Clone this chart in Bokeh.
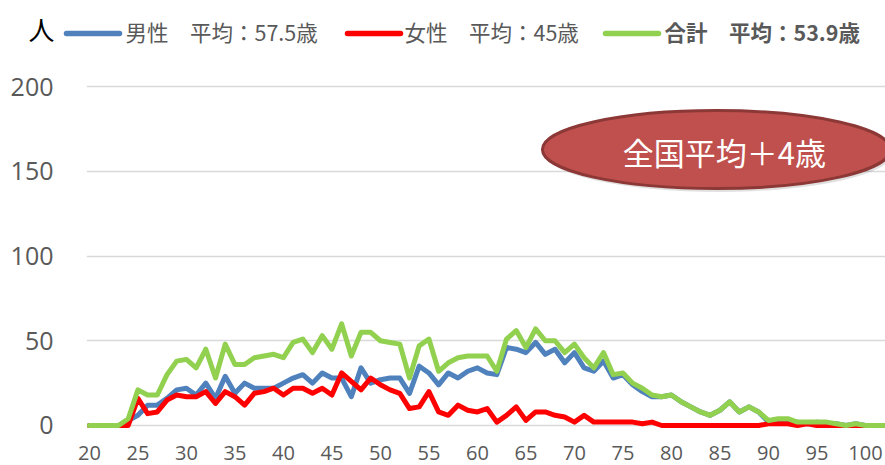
from bokeh.plotting import figure
from bokeh.layouts import column
from bokeh.models import Range1d, FixedTicker
from bokeh.core.properties import value
from bokeh.embed import file_html
from bokeh.resources import INLINE

# ---------------- data ----------------
ages = list(range(20, 103))
male = [0, 0, 0, 0, 3, 6, 12, 12, 16, 21,
        22, 18, 25, 16, 29, 19, 25, 22, 22, 22,
        25, 28, 30, 25, 31, 28, 28, 17, 34, 25,
        27, 28, 28, 19, 35, 31, 24, 31, 28, 32,
        34, 31, 30, 46, 45, 43, 49, 42, 45, 37,
        43, 34, 32, 38, 28, 30, 24, 20, 17, 17,
        18, 14, 11, 8, 6, 9, 14, 8, 11, 8,
        2, 3, 3, 2, 1, 2, 1, 1, 0, 1,
        0, 0, 0]
female = [0, 0, 0, 0, 0, 16, 7, 8, 15, 18,
          17, 17, 20, 13, 20, 17, 12, 19, 20, 22,
          18, 22, 22, 19, 22, 18, 31, 26, 21, 28,
          24, 21, 19, 10, 11, 20, 8, 6, 12, 9,
          8, 10, 2, 6, 11, 3, 8, 8, 6, 5,
          2, 6, 2, 2, 2, 2, 2, 1, 2, 0,
          0, 0, 0, 0, 0, 0, 0, 0, 0, 0,
          1, 1, 1, 0, 1, 0, 0, 0, 0, 0,
          0, 0, 0]
total = [0, 0, 0, 0, 4, 21, 18, 18, 30, 38,
         39, 34, 45, 28, 48, 36, 36, 40, 41, 42,
         40, 49, 51, 43, 53, 45, 60, 41, 55, 55,
         50, 49, 48, 28, 47, 51, 32, 37, 40, 41,
         41, 41, 32, 51, 56, 46, 57, 50, 50, 43,
         48, 40, 34, 43, 30, 31, 25, 22, 18, 17,
         18, 14, 11, 8, 6, 9, 14, 8, 11, 8,
         3, 4, 4, 2, 2, 2, 2, 1, 0, 1,
         0, 0, 0]
x_ticks = list(range(20, 101, 5))
y_ticks = [0, 50, 100, 150, 200]
series_labels = ["男性　平均：57.5歳", "女性　平均：45歳", "合計　平均：53.9歳"]
unit_label = "人"
note_text = "全国平均＋4歳"

# ---------------- styles ----------------
BLUE = "#4F81BD"
RED = "#FF0000"
GREEN = "#92D050"
GRAY = "#595959"
CJK = "Noto Sans CJK JP"
NUM = "Open Sans"
W = 885
TOP_H = 60
MAIN_H = 405

# ---------------- header strip (unit + legend) ----------------
top = figure(width=W, height=TOP_H, output_backend="svg", toolbar_location=None,
             x_range=Range1d(0, W), y_range=Range1d(TOP_H, 0),
             x_axis_location=None, y_axis_location=None,
             min_border=0, min_border_left=0, min_border_right=0,
             min_border_top=0, min_border_bottom=0)
top.frame_align = False
top.grid.visible = False
top.outline_line_color = None
top.background_fill_color = "white"
top.border_fill_color = "white"

top.text(x=[41], y=[28], text=[unit_label], text_font=value(CJK), text_font_size="26px",
         text_color="black", text_align="center", text_baseline="middle")

leg = [
    (BLUE, 66, 119, 125, series_labels[0], "normal"),
    (RED, 347, 400, 404, series_labels[1], "normal"),
    (GREEN, 605, 658, 664, series_labels[2], "bold"),
]
for col, x0, x1, tx, lab, style in leg:
    top.line([x0, x1], [33, 33], line_color=col, line_width=5.5, line_cap="round")
    top.text(x=[tx], y=[31], text=[lab], text_font=value(CJK), text_font_size="21.5px",
             text_color=GRAY, text_align="left", text_baseline="middle",
             text_font_style=style)

# ---------------- main chart ----------------
p = figure(width=W, height=MAIN_H, output_backend="svg", toolbar_location=None,
           x_range=Range1d(19.7, 102.07), y_range=Range1d(-2.95, 203.54),
           min_border_left=86, min_border_right=0, min_border_top=20, min_border_bottom=35)
p.frame_align = False
p.outline_line_color = None
p.background_fill_color = "white"
p.border_fill_color = "white"

p.xgrid.grid_line_color = None
p.ygrid.grid_line_color = "#D9D9D9"
p.ygrid.grid_line_width = 1.3

p.xaxis.ticker = FixedTicker(ticks=x_ticks)
p.yaxis.ticker = FixedTicker(ticks=y_ticks)
for ax in (p.xaxis, p.yaxis):
    ax.axis_line_color = None
    ax.major_tick_line_color = None
    ax.minor_tick_line_color = None
    ax.major_tick_out = 0
    ax.major_tick_in = 0
    ax.major_label_text_color = GRAY
    ax.major_label_text_font = NUM
p.xaxis.major_label_text_font_size = "20px"
p.xaxis.major_label_standoff = 15
p.yaxis.major_label_text_font_size = "25px"
p.yaxis.major_label_standoff = 33

common = dict(line_width=5, line_join="round", line_cap="round")
p.line(ages, male, line_color=BLUE, **common)
p.line(ages, female, line_color=RED, **common)
p.line(ages, total, line_color=GREEN, **common)

# annotation ellipse
EX, EY = 84.64, 162.8
p.ellipse(x=[EX + 0.25], y=[EY - 2.0], width=348, height=78, width_units="screen",
          height_units="screen", fill_color="#000000", fill_alpha=0.12, line_color=None)
p.ellipse(x=[EX], y=[EY], width=348, height=78, width_units="screen", height_units="screen",
          fill_color="#C0504D", line_color="#8C3836", line_width=3)
p.text(x=[85.46], y=[161.7], text=[note_text], text_font=value(CJK), text_font_size="31px",
       text_color="white", text_align="center", text_baseline="middle")

layout = column(top, p, spacing=0)
open("out.html", "w").write(file_html(layout, INLINE))
